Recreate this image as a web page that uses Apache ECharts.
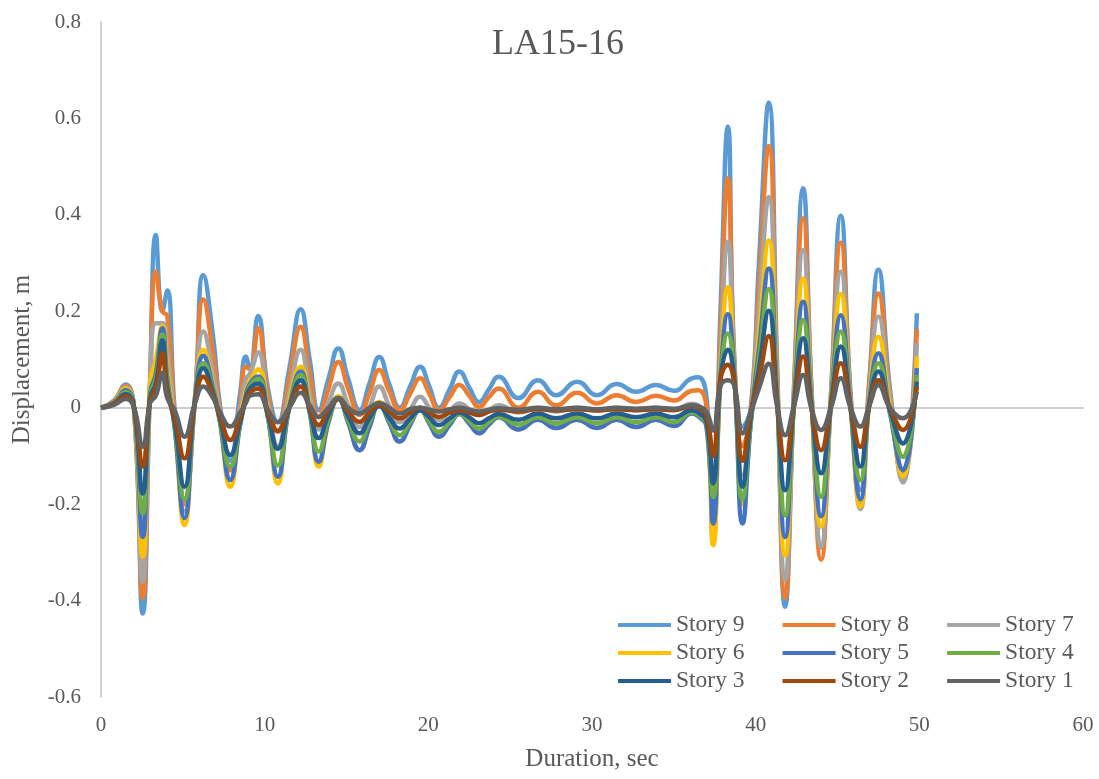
<!DOCTYPE html>
<html><head><meta charset="utf-8">
<script src="https://cdn.jsdelivr.net/npm/echarts@6/dist/echarts.min.js"></script>
<style>html,body{margin:0;padding:0;background:#fff}#c{width:1099px;height:779px}</style>
</head><body><div id="c"></div>
<script>
// Time knots (sec) shared by all stories
const time = [0, 0.8, 1.5, 2.0, 2.55, 3.0, 3.35, 3.75, 4.05, 4.5, 5.1, 5.75, 6.25, 6.85, 7.25, 7.9, 8.5, 8.85, 9.1, 9.6,
  10.2, 10.8, 11.5, 12.2, 12.75, 13.3, 13.9, 14.5, 15.1, 15.8, 16.4, 17.0, 17.6, 18.25, 18.9, 19.5, 20.05, 20.65, 21.3, 21.9,
  22.5, 23.1, 23.7, 24.3, 25.5, 26.7, 27.8, 29.1, 30.3, 31.5, 32.7, 33.9, 35.0, 36.1, 36.5, 37.0, 37.4, 37.85, 38.3, 38.7,
  39.2, 39.7, 40.2, 40.8, 41.3, 41.8, 42.35, 42.9, 43.4, 44.0, 44.6, 45.2, 45.8, 46.4, 46.95, 47.5, 48.2, 49.0, 49.85];

const story9 = [0, .015, .048, .005, -.427, .06, .358, .2, .243, -.005, -.19, .025, .275, .147, .01, -.11, .03, .106, .08, .19,
  .04, -.03, .08, .204, .1, -.005, .06, .123, .06, -.005, .05, .105, .05, 0, .045, .085, .045, 0, .038, .075,
  .042, .012, .038, .064, .02, .057, .026, .054, .026, .049, .033, .047, .035, .061, .063, .02, -.22, .2, .583, .1,
  -.04, 0, .3, .633, .1, -.413, .05, .455, .05, -.29, .03, .398, .03, -.17, .06, .286, .04, -.14, .196];
const story8 = [0, .014, .045, .005, -.395, .05, .282, .2, .19, -.015, -.2, .022, .225, .11, 0, -.13, .005, .085, .08, .165,
  .025, -.05, .06, .168, .07, -.02, .04, .095, .04, -.015, .03, .078, .035, -.005, .03, .061, .03, -.005, .022, .047,
  .025, .002, .022, .04, 0, .033, .005, .031, .009, .026, .012, .025, .015, .035, .036, 0, -.25, .15, .476, .09,
  -.08, -.01, .25, .543, .08, -.395, .04, .393, .04, -.315, .02, .342, .02, -.2, .05, .237, .03, -.15, .163];
const story7 = [0, .013, .042, .005, -.361, .04, .175, .175, .12, -.03, -.215, .02, .158, .07, -.01, -.15, -.01, .06, .07, .115,
  .005, -.08, .03, .12, .03, -.045, .01, .05, .005, -.04, 0, .044, .005, -.03, -.003, .023, 0, -.025, -.008, .009,
  -.003, -.015, -.005, .005, -.01, 0, -.008, 0, -.006, 0, -.005, 0, -.004, .008, .005, -.02, -.28, .1, .344, .08,
  -.14, -.02, .2, .437, .06, -.357, .03, .327, .03, -.288, .015, .282, .01, -.21, .03, .189, .02, -.155, .134];
const story6 = [0, .012, .04, .005, -.309, .05, .1, .17, .08, -.04, -.243, .02, .12, .045, -.025, -.164, -.03, .035, .055, .08,
  -.015, -.157, .01, .085, 0, -.122, -.03, .024, -.03, -.088, -.04, .012, -.03, -.07, -.032, 0, -.03, -.06, -.035, -.012,
  -.032, -.053, -.035, -.018, -.045, -.025, -.042, -.025, -.042, -.025, -.04, -.025, -.038, -.01, -.015, -.04, -.285, .07, .25, .07,
  -.2, -.03, .15, .347, .04, -.306, .02, .268, .02, -.247, .01, .236, 0, -.205, .02, .147, 0, -.143, .106];
const story5 = [0, .011, .036, .005, -.268, .03, .07, .165, .06, -.04, -.229, .018, .108, .04, -.025, -.15, -.035, .025, .05, .065,
  -.02, -.143, 0, .075, -.01, -.112, -.03, .02, -.03, -.088, -.04, .008, -.03, -.07, -.035, -.003, -.032, -.06, -.036, -.013,
  -.033, -.053, -.035, -.02, -.045, -.025, -.042, -.025, -.042, -.025, -.04, -.025, -.038, -.012, -.018, -.04, -.24, .06, .194, .065,
  -.24, -.03, .12, .289, .03, -.268, .015, .22, .015, -.225, .01, .192, 0, -.19, .015, .113, -.01, -.129, .082];
const story4 = [0, .01, .032, .005, -.219, .025, .06, .152, .05, -.035, -.19, .016, .092, .035, -.025, -.122, -.035, .02, .045, .06,
  -.02, -.12, 0, .068, -.01, -.091, -.025, .02, -.025, -.07, -.03, .005, -.025, -.057, -.03, -.005, -.028, -.05, -.03, -.012,
  -.028, -.043, -.03, -.018, -.035, -.02, -.032, -.02, -.032, -.02, -.03, -.02, -.03, -.01, -.015, -.035, -.185, .06, .154, .06,
  -.19, -.03, .1, .246, .02, -.223, .01, .182, .01, -.185, .01, .158, 0, -.15, .01, .092, -.01, -.102, .068];
const story3 = [0, .009, .028, .004, -.178, .02, .05, .14, .04, -.03, -.164, .015, .082, .03, -.02, -.098, -.03, .02, .04, .05,
  -.015, -.085, 0, .057, -.005, -.063, -.015, .018, -.018, -.053, -.022, .003, -.02, -.043, -.022, -.005, -.02, -.036, -.022, -.01,
  -.02, -.032, -.022, -.013, -.025, -.012, -.022, -.012, -.022, -.012, -.02, -.012, -.02, -.005, -.01, -.03, -.157, .06, .12, .055,
  -.164, -.02, .08, .201, .015, -.171, .01, .144, .005, -.136, .005, .127, 0, -.122, .01, .075, -.005, -.074, .054];
const story2 = [0, .008, .024, .003, -.122, .015, .04, .113, .03, -.02, -.105, .012, .064, .025, -.015, -.067, -.02, .015, .032, .04,
  -.01, -.048, 0, .044, 0, -.036, -.005, .018, -.008, -.029, -.01, .005, -.008, -.022, -.01, 0, -.01, -.019, -.01, -.005,
  -.01, -.015, -.008, -.004, -.008, -.003, -.006, -.003, -.006, -.003, -.005, -.003, -.005, .003, 0, -.02, -.1, .06, .089, .05,
  -.11, -.01, .06, .149, .01, -.109, .005, .106, 0, -.088, .005, .092, 0, -.081, .005, .057, 0, -.046, .044];
const story1 = [0, .006, .018, .002, -.081, .01, .025, .072, .02, -.005, -.06, .01, .044, .02, -.008, -.039, -.01, .01, .025, .028,
  -.005, -.03, 0, .031, .005, -.019, 0, .02, 0, -.012, 0, .01, 0, -.012, -.003, 0, -.004, -.008, -.003, 0,
  -.004, -.008, -.004, -.001, -.004, 0, -.003, 0, -.003, 0, -.002, 0, -.002, .005, .003, -.01, -.047, .045, .057, .045,
  -.053, -.01, .04, .091, .005, -.057, .005, .068, 0, -.046, 0, .061, 0, -.039, .005, .047, 0, -.022, .033];

const seriesNames = ['Story 9', 'Story 8', 'Story 7', 'Story 6', 'Story 5', 'Story 4', 'Story 3', 'Story 2', 'Story 1'];
const seriesValues = [story9, story8, story7, story6, story5, story4, story3, story2, story1];
const seriesColors = ['#5B9BD5', '#ED7D31', '#A5A5A5', '#FFC000', '#4472C4', '#70AD47', '#255E91', '#9E480E', '#636363'];
const legendRows = [['Story 9', 'Story 8', 'Story 7'], ['Story 6', 'Story 5', 'Story 4'], ['Story 3', 'Story 2', 'Story 1']];
const xMin = 0, xMax = 60, xStep = 10;
const yMin = -0.6, yMax = 0.8, yStep = 0.2;

const FONT = 'Liberation Serif';
const TXT = '#595959';
const AX = '#BFBFBF';

const chart = echarts.init(document.getElementById('c'), null, {renderer: 'canvas'});
chart.setOption({
  animation: false,
  backgroundColor: '#ffffff',
  title: {
    text: 'LA15-16', left: 492, top: 27, padding: 0,
    textStyle: {fontFamily: FONT, fontSize: 36, fontWeight: 'normal', color: TXT}
  },
  grid: {left: 101, right: 16, top: 22, bottom: 82},
  legend: legendRows.map((row, r) => ({
    data: row, left: 618, top: 613 + 28 * r, padding: 0,
    icon: 'rect', itemWidth: 53, itemHeight: 4, itemGap: 38, selectedMode: false,
    textStyle: {fontFamily: FONT, fontSize: 23.5, color: TXT}
  })),
  xAxis: [
    {
      type: 'value', min: xMin, max: xMax, interval: xStep, position: 'bottom',
      axisLine: {show: true, onZero: true, lineStyle: {color: AX, width: 1.5}},
      axisTick: {show: false}, axisLabel: {show: false}, splitLine: {show: false}
    },
    {
      type: 'value', min: xMin, max: xMax, interval: xStep, position: 'bottom',
      axisLine: {show: false, onZero: false}, axisTick: {show: false}, splitLine: {show: false},
      axisLabel: {margin: 18, fontFamily: FONT, fontSize: 21, color: TXT},
      name: 'Duration, sec', nameLocation: 'middle', nameGap: 50,
      nameTextStyle: {fontFamily: FONT, fontSize: 25, color: TXT}
    }
  ],
  yAxis: {
    type: 'value', min: yMin, max: yMax, interval: yStep,
    axisLine: {show: true, onZero: false, lineStyle: {color: AX, width: 1.5}},
    axisTick: {show: false}, splitLine: {show: false},
    axisLabel: {margin: 20, fontFamily: FONT, fontSize: 21, color: TXT},
    name: 'Displacement, m', nameLocation: 'middle', nameGap: 66,
    nameTextStyle: {fontFamily: FONT, fontSize: 25, color: TXT}
  },
  series: seriesNames.map((name, k) => ({
    name: name, type: 'line', xAxisIndex: 0,
    data: time.map((t, i) => [t, seriesValues[k][i]]),
    symbol: 'none', showSymbol: false, smooth: 0.5,
    color: seriesColors[k],
    lineStyle: {width: 4.5, color: seriesColors[k]}
  }))
});
</script></body></html>
